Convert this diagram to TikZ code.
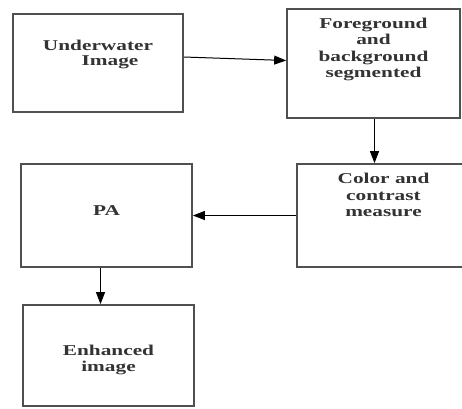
\documentclass[tikz,border=0pt]{standalone}
\usepackage{fontspec}
\setmainfont{Liberation Serif}[FakeStretch=1.42]
\usepackage{tikz}
\usetikzlibrary{arrows.meta, positioning}
\definecolor{BoxGray}{HTML}{505050}
\definecolor{InkGray}{HTML}{333333}

\tikzset{
  stagebox/.style={draw=BoxGray, line width=1.7bp, fill=white, inner sep=0pt},
  stagetext/.style={anchor=north, align=center, inner sep=0pt, text=InkGray,
                    font=\fontsize{15bp}{16.5bp}\selectfont\bfseries},
  flow/.style={draw=black, line width=1bp, -{Triangle[length=12bp, width=9bp]}}
}

\begin{document}
\begin{tikzpicture}[x=1bp, y=-1bp]
  \useasboundingbox (0,0) rectangle (462,408);
  % stages
  \node[stagebox, minimum width=170bp, minimum height=98bp]  (uw)  at (98,63) {};
  \node[stagebox, minimum width=173bp, minimum height=109bp] (fg)  at (373.5,63.5) {};
  \node[stagebox, minimum width=173bp, minimum height=103bp] (ccm) at (383.5,215.5) {};
  \node[stagebox, minimum width=171bp, minimum height=103bp] (pa)  at (106.5,215.5) {};
  \node[stagebox, minimum width=171bp, minimum height=101bp] (enh) at (108.5,355.5) {};
  % stage texts
  \node[stagetext, font=\fontsize{15bp}{15bp}\selectfont\bfseries] (uw-txt)
    at ([yshift=-27bp]uw.north) {Underwater\\\kern24bp Image};
  \node[stagetext] (fg-txt)  at ([yshift=-9.5bp]fg.north) {Foreground\\and\\background\\segmented};
  \node[stagetext] (ccm-txt) at ([yshift=-10bp]ccm.north) {Color and\\contrast\\measure};
  \node[stagetext] (pa-txt)  at ([yshift=-42bp]pa.north) {PA};
  \node[stagetext] (enh-txt) at ([yshift=-40.5bp]enh.north) {Enhanced\\image};
  % connectors
  \draw[flow] ([yshift=6bp]uw.east) -- ([yshift=3bp]fg.west);
  \draw[flow] ([xshift=1bp]fg.south) -- ([xshift=1bp]fg.south |- ccm.north);
  \draw[flow] (ccm.west) -- (pa.east);
  \draw[flow] ([xshift=-6bp]pa.south) -- ([xshift=-6bp]pa.south |- enh.north);
\end{tikzpicture}
\end{document}
